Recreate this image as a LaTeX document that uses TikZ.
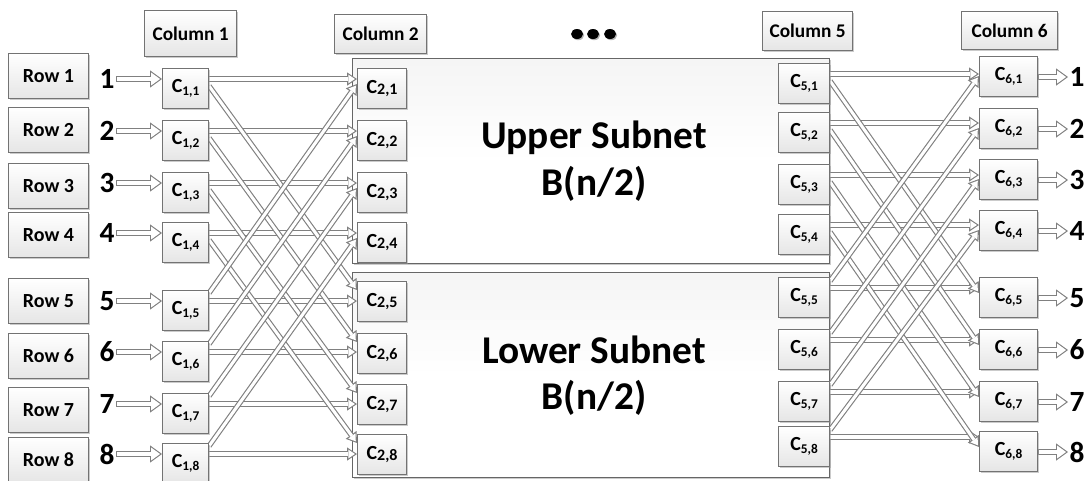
\documentclass[tikz,border=0pt]{standalone}
\usepackage{fontspec}
\setmainfont{Carlito}
\usetikzlibrary{arrows.meta,shadows,calc}
\pgfdeclarelayer{bg}
\pgfdeclarelayer{sub}
\pgfdeclarelayer{conn}
\pgfsetlayers{bg,sub,conn,main}
\tikzset{
  box/.style={draw=black!55, line width=0.8pt, top color=white, bottom color=black!10,
    drop shadow={shadow xshift=1.2pt, shadow yshift=-1.2pt, fill=black!40, opacity=0.5},
    inner sep=0pt, anchor=north west, font=\fontsize{15}{17}\selectfont\bfseries},
  rowbox/.style={box, minimum width=60pt, minimum height=33.75pt},
  cbox/.style={box, minimum height=30pt},
  colbox/.style={box, font=\fontsize{14.5}{16}\selectfont\bfseries},
  subbox/.style={draw=black!60, line width=0.9pt, top color=black!4, bottom color=white,
    middle color=white,
    drop shadow={shadow xshift=1.2pt, shadow yshift=-1.2pt, fill=black!40, opacity=0.5},
    anchor=north west, inner sep=0pt, minimum width=357.75pt, minimum height=153.75pt},
  subtext/.style={anchor=base, font=\fontsize{29.5}{34}\selectfont\bfseries},
  num/.style={inner sep=1pt, font=\fontsize{22}{22}\selectfont\bfseries},
  connout/.style={draw=black!50, line width=4pt,
    -{Triangle[length=7.5pt,width=10pt,line width=0pt]}},
  connin/.style={draw=white, line width=2.3pt, shorten >=1.55pt,
    -{Triangle[length=5pt,width=6.7pt,line width=0pt]}},
  bigout/.style={draw=black!50, line width=5.2pt,
    -{Triangle[length=9pt,width=13pt,line width=0pt]}},
  bigin/.style={draw=white, line width=3.5pt, shorten >=1.45pt, shorten <=0.85pt,
    -{Triangle[length=6.7pt,width=9.7pt,line width=0pt]}},
}
\newcommand\myconn[2]{%
  \draw[connout] #1 -- #2;
  \draw[connin] #1 -- #2;}
\newcommand\mybig[2]{%
  \draw[bigout] #1 -- #2;
  \draw[bigin] #1 -- #2;}
\newcommand\csub[2]{C\raisebox{-2.2pt}{\fontsize{10}{10}\selectfont #1,#2}}
\begin{document}
\begin{tikzpicture}[x=0.75pt,y=-0.75pt]
\begin{pgfonlayer}{bg}
  \fill[white] (0,0) rectangle (1086,480);
\end{pgfonlayer}
\useasboundingbox (0,0) rectangle (1086,480);

% subnets
\begin{pgfonlayer}{sub}
  \node[subbox] (upper) at (352,58) {};
  \node[subbox] (lower) at (352,272) {};
\end{pgfonlayer}
\node[subtext] (ut1) at (594,148) {Upper Subnet};
\node[subtext] (ut2) at (594,195) {B(n/2)};
\node[subtext] (lt1) at (594,363) {Lower Subnet};
\node[subtext] (lt2) at (594,409) {B(n/2)};

% dots
\foreach \x in {577,593,610}{
  \fill[black!30] (\x+1.2,35.2) ellipse [x radius=6, y radius=5];
  \fill[black] (\x,34) ellipse [x radius=6, y radius=5];
}

% column labels
\node[colbox, minimum width=69pt, minimum height=34.5pt] (col1) at (144,10) {Column 1};
\node[colbox, minimum width=69pt, minimum height=29.25pt] (col2) at (334,14) {Column 2};
\node[colbox, minimum width=67.5pt, minimum height=29.25pt] (col5) at (762,11) {Column 5};
\node[colbox, minimum width=72pt, minimum height=28.5pt] (col6) at (961,11) {Column 6};

% rows
\foreach \k/\t in {1/53,2/107,3/163,4/212,5/278,6/333,7/387,8/437}
  \node[rowbox] (r\k) at (8,\t) {Row \k};

% column 1
\foreach \k/\t in {1/68,2/120,3/172,4/222,5/290,6/341,7/393,8/443}{
  \node[cbox, minimum width=34.5pt] (c1\k) at (162,\t) {\csub{1}{\k}};
  \node[num, anchor=east] (n\k) at (116,\t+11) {\k};
}
% column 2
\foreach \k/\t in {1/68,2/120,3/172,4/222,5/281,6/333,7/384,8/434}
  \node[cbox, minimum width=36.75pt] (c2\k) at (357,\t)
    {C\raisebox{-0.6pt}{\fontsize{12}{12}\selectfont 2,\k}};
% column 5
\foreach \k/\t in {1/63,2/112,3/164,4/214,5/277,6/329,7/381,8/426}
  \node[cbox, minimum width=38.25pt] (c5\k) at (778,\t) {\csub{5}{\k}};
% column 6
\foreach \k/\t in {1/56,2/108,3/159,4/210,5/277,6/329,7/381,8/431}{
  \node[cbox, minimum width=43.5pt] (c6\k) at (979,\t) {\csub{6}{\k}};
  \node[num, anchor=west] (o\k) at (1068,\t+21) {\k};
}

\begin{pgfonlayer}{conn}
% inputs and outputs
\foreach \k in {1,...,8}{
  \mybig{(n\k.east)}{(n\k.east -| c1\k.west)}
  \mybig{(o\k.west -| c6\k.east)}{(o\k.west)}
}
% stage 1
\foreach \k in {1,...,8}{
  \coordinate (s\k) at ($(c1\k.north east)+(0,11)$);
  \myconn{(s\k)}{(s\k -| c2\k.west)}
}
\foreach \k/\j in {1/5,2/6,3/7,4/8}{
  \myconn{($(c1\k.north east)+(0,18)$)}{($(c2\j.north west)+(0,9)$)}
}
\foreach \k/\j in {5/1,6/2,7/3,8/4}{
  \myconn{($(c1\k.north east)+(0,3)$)}{($(c2\j.north west)+(0,16)$)}
}
% stage 2
\foreach \k in {1,...,8}{
  \coordinate (t\k) at ($(c5\k.north east)+(0,11)$);
  \myconn{(t\k)}{(t\k -| c6\k.west)}
}
\foreach \k/\j in {1/5,2/6,3/7,4/8}{
  \myconn{($(c5\k.north east)+(0,18)$)}{($(c6\j.north west)+(0,16)$)}
}
\foreach \k/\j in {5/1,6/2,7/3,8/4}{
  \myconn{($(c5\k.north east)+(0,4)$)}{($(c6\j.north west)+(0,20)$)}
}
\end{pgfonlayer}
\end{tikzpicture}
\end{document}
